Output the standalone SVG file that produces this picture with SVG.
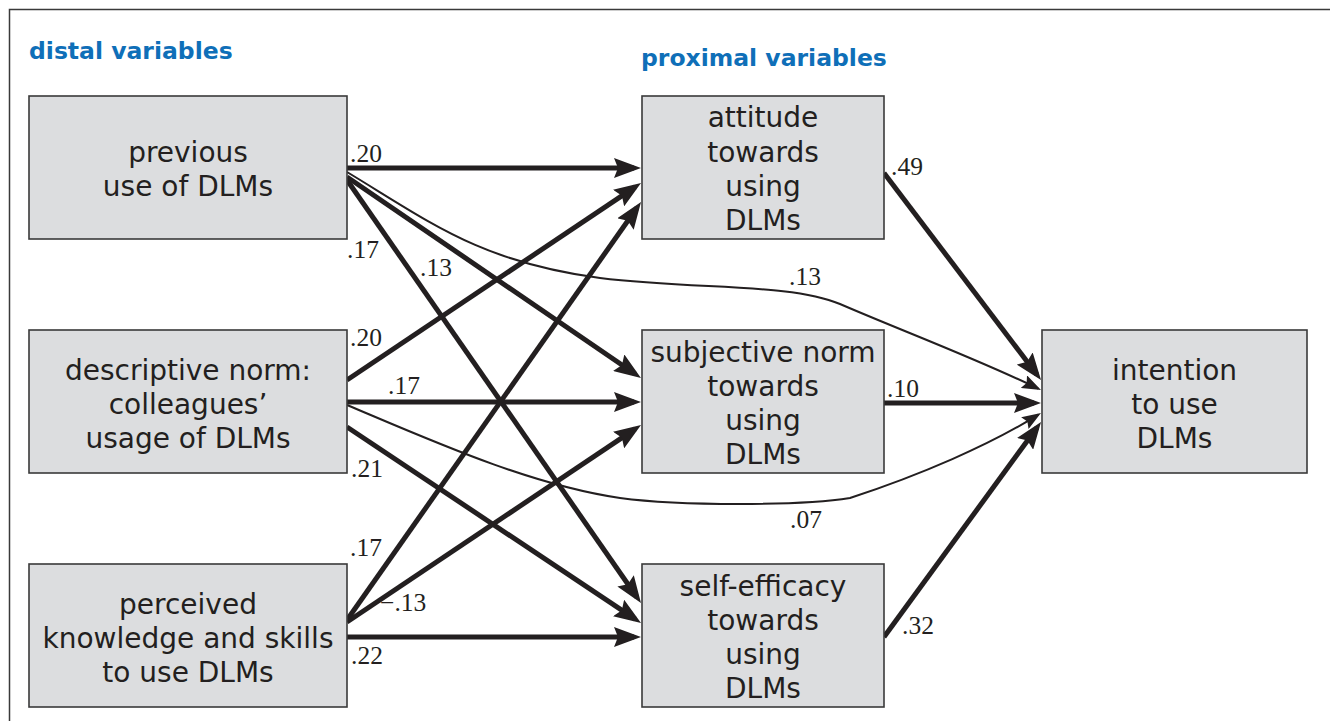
<svg xmlns="http://www.w3.org/2000/svg" width="1330" height="721" viewBox="0 0 1330 721">
<style>
.frame{fill:#fff;stroke:#3a3a3a;stroke-width:1.5}
.box{fill:#dcdddf;stroke:#3a3a3a;stroke-width:1.6}
.nt{font-family:"DejaVu Sans",sans-serif;font-size:28px;fill:#231f20;text-anchor:middle}
.hd{font-family:"DejaVu Sans",sans-serif;font-weight:bold;font-size:23.5px;fill:#0f6fb8}
.lb{font-family:"Liberation Serif",serif;font-size:25.5px;fill:#231f20}
.thick{fill:none;stroke:#231f20;stroke-width:5;marker-end:url(#ah)}
.thin{fill:none;stroke:#231f20;stroke-width:2;marker-end:url(#ahs)}
</style>
<defs>
<marker id="ah" markerUnits="userSpaceOnUse" viewBox="0 0 27 20" markerWidth="27" markerHeight="20" refX="20" refY="10" orient="auto">
<path d="M0,0 L27,10 L0,20 L4,10 z" fill="#231f20"/>
</marker>
<marker id="ahs" markerUnits="userSpaceOnUse" viewBox="0 0 19 14" markerWidth="19" markerHeight="14" refX="16" refY="7" orient="auto">
<path d="M0,0 L19,7 L0,14 L3,7 z" fill="#231f20"/>
</marker>
</defs>
<rect x="9.5" y="9.5" width="1340" height="740" class="frame"/>
<text class="hd" x="29" y="59">distal variables</text>
<text class="hd" x="641" y="66">proximal variables</text>

<g id="connectors">
<path class="thick" d="M347,168 L634,168"/>
<path class="thick" d="M347,177 L635.2,374"/>
<path class="thick" d="M347,180 L637,597.3"/>
<path class="thick" d="M347,380 L635.2,186.9"/>
<path class="thick" d="M347,402 L634,402"/>
<path class="thick" d="M347,427 L635.2,619.1"/>
<path class="thick" d="M347,620 L637,207.7"/>
<path class="thick" d="M347,622 L635.2,428.9"/>
<path class="thick" d="M347,637 L634,637"/>
<path class="thick" d="M884,173 L1036.8,374.4"/>
<path class="thick" d="M884,403 L1034,403"/>
<path class="thick" d="M884,637 L1036.9,427.7"/>
<path class="thin" d="M347,172 C430,222 480,262 600,278 C700,290 790,283 840,304 C900,330 980,360 1038.3,388.7"/>
<path class="thin" d="M347,405 C430,440 530,485 620,498 C680,506 800,506 850,498 C920,475 990,445 1038.4,414.6"/>
</g>

<g id="labels">
<text class="lb" x="350" y="162">.20</text>
<text class="lb" x="347" y="258">.17</text>
<text class="lb" x="420" y="276">.13</text>
<text class="lb" x="789" y="285">.13</text>
<text class="lb" x="350" y="346">.20</text>
<text class="lb" x="388" y="394">.17</text>
<text class="lb" x="351" y="477">.21</text>
<text class="lb" x="790" y="528">.07</text>
<text class="lb" x="350" y="556">.17</text>
<text class="lb" x="380" y="611">−.13</text>
<text class="lb" x="351" y="664">.22</text>
<text class="lb" x="891" y="175">.49</text>
<text class="lb" x="887" y="397">.10</text>
<text class="lb" x="902" y="634">.32</text>
</g>

<g id="n-previous">
<rect class="box" x="29" y="96" width="318" height="143"/>
<text class="nt" x="188" y="162">previous</text>
<text class="nt" x="188" y="196">use of DLMs</text>
</g>
<g id="n-descriptive">
<rect class="box" x="29" y="330" width="318" height="143"/>
<text class="nt" x="188" y="380">descriptive norm:</text>
<text class="nt" x="188" y="414">colleagues’</text>
<text class="nt" x="188" y="448">usage of DLMs</text>
</g>
<g id="n-perceived">
<rect class="box" x="29" y="564" width="318" height="143"/>
<text class="nt" x="188" y="614">perceived</text>
<text class="nt" x="188" y="648">knowledge and skills</text>
<text class="nt" x="188" y="682">to use DLMs</text>
</g>
<g id="n-attitude">
<rect class="box" x="642" y="96" width="242" height="143"/>
<text class="nt" x="763" y="127">attitude</text>
<text class="nt" x="763" y="162">towards</text>
<text class="nt" x="763" y="196">using</text>
<text class="nt" x="763" y="230">DLMs</text>
</g>
<g id="n-subjective">
<rect class="box" x="642" y="330" width="242" height="143"/>
<text class="nt" x="763" y="362">subjective norm</text>
<text class="nt" x="763" y="396">towards</text>
<text class="nt" x="763" y="430">using</text>
<text class="nt" x="763" y="464">DLMs</text>
</g>
<g id="n-selfefficacy">
<rect class="box" x="642" y="564" width="242" height="143"/>
<text class="nt" x="763" y="596">self-efficacy</text>
<text class="nt" x="763" y="630">towards</text>
<text class="nt" x="763" y="664">using</text>
<text class="nt" x="763" y="698">DLMs</text>
</g>
<g id="n-intention">
<rect class="box" x="1042" y="330" width="265" height="143"/>
<text class="nt" x="1174.5" y="380">intention</text>
<text class="nt" x="1174.5" y="414">to use</text>
<text class="nt" x="1174.5" y="448">DLMs</text>
</g>
</svg>
